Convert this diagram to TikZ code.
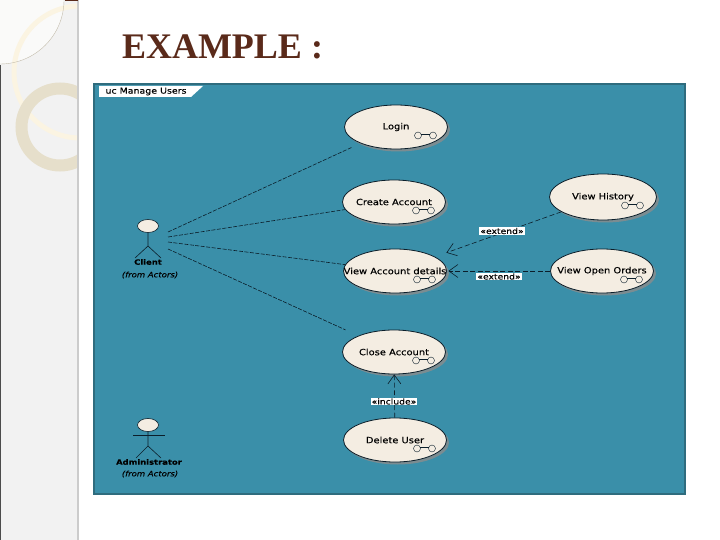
\documentclass[tikz,border=0pt]{standalone}
\usepackage{fontspec}
\setmainfont{Liberation Serif}
\setsansfont{DejaVu Sans}[FakeStretch=1.15, FakeBold=0.3]
\usetikzlibrary{arrows.meta, calc, shapes.geometric, shadows}
\definecolor{panelblue}{HTML}{3A8FA9}
\definecolor{paneledge}{HTML}{2F6C7E}
\definecolor{usecream}{HTML}{F4EDE2}
\definecolor{titlebrown}{HTML}{5A2A1A}
\definecolor{inkdark}{HTML}{0B1E2A}
\definecolor{ringtan}{HTML}{E6DFCB}
\definecolor{ringcream}{HTML}{FBF4E2}
\tikzset{
    usecase/.style={ellipse, draw=inkdark, fill=usecream, thick, inner ysep=0pt, inner xsep=-16pt, minimum width=#1, minimum height=44pt,
        drop shadow={shadow xshift=2.5pt, shadow yshift=-2.5pt, fill=black!45, opacity=0.8}, font=\sffamily\fontsize{8.6}{10}\selectfont, text=black},
    usecase/.default=103pt,
    actorhead/.style={ellipse, draw=inkdark, fill=usecream, semithick, minimum width=21pt, minimum height=13pt, inner sep=0pt},
    actorname/.style={font=\sffamily\bfseries\fontsize{7.3}{9}\selectfont, text=black, inner sep=0pt},
    fromlabel/.style={font=\sffamily\itshape\fontsize{7.4}{8}\selectfont, text=black, inner sep=0pt},
    stereo/.style={fill=white, text=black, inner xsep=1pt, inner ysep=0.5pt, font=\sffamily\fontsize{8}{8}\selectfont},
    assoc/.style={draw=inkdark, semithick, dash pattern=on 4pt off 1.5pt},
    depend/.style={draw=inkdark, semithick, dash pattern=on 5pt off 2.5pt, -{Straight Barb[length=9pt,width=13pt]}},
    stick/.style={draw=inkdark, semithick},
    glasses/.style={draw=inkdark, thin},
}
\begin{document}
\begin{tikzpicture}[x=1pt, y=-1pt]
\useasboundingbox (0,0) rectangle (720,540);
% side strip
\fill[white] (0,0) rectangle (720,540);
\fill[black!5] (0,0) rectangle (78,540);
\begin{scope}
\clip (0,0) rectangle (77,540);
\fill[ringcream!60!black!5] (0,0) -- (64,0) arc[start angle=0, end angle=90, radius=64] -- cycle;
\draw[ringcream, line width=5pt] (80,72) circle[radius=66];
\draw[ringtan!85!black, thin] (64,0) arc[start angle=0, end angle=90, radius=64];
\draw[ringtan, line width=12pt] (60,127) circle[radius=38.5];
\end{scope}
\fill[black!20] (77,0) rectangle (79,540);
\fill[black!70] (0,65) rectangle (1,540);
\fill[titlebrown] (65,0) rectangle (78,1);
% title
\node[text=titlebrown, font=\bfseries\fontsize{36}{44}\selectfont, inner sep=0pt] (title) at (222.5,47) {EXAMPLE :};
% panel
\draw[fill=panelblue, draw=paneledge, line width=2pt] (94,84) rectangle (685,494);
\fill[white] (99,86) -- (203,86) -- (191,97) -- (99,97) -- cycle;
\node[font=\sffamily\fontsize{8.2}{8}\selectfont, text=black, inner sep=0pt] (frame) at (146,91.5) {uc Manage Users};
% use cases
\node[usecase] (login) at (396,127) {Login};
\node[usecase] (create) at (394,202) {Create Account};
\node[usecase=107pt, minimum height=46pt] (history) at (603,197) {View History};
\node[usecase] (details) at (395,271) {View Account details};
\node[usecase] (orders) at (602,271) {View Open Orders};
\node[usecase] (close) at (394,352) {Close Account};
\node[usecase] (delete) at (395,440) {Delete User};
\foreach \n in {login, create, history, details, orders, close, delete} {
    \draw[glasses] ($(\n)+(22,8.5)$) circle[radius=3.5];
    \draw[glasses] ($(\n)+(37,8.5)$) circle[radius=3.5];
    \draw[glasses] ($(\n)+(25,7)$) -- ($(\n)+(34,7)$);
}
% actors
\node[actorhead] (client) at (148,226) {};
\draw[stick] (client.south) -- (148,246) -- (135,258);
\draw[stick] (148,246) -- (161,258);
\node[actorname] (clientname) at (148,262) {Client};
\node[fromlabel] (clientfrom) at (150,275) {(from Actors)};
\node[actorhead] (admin) at (148,425) {};
\draw[stick] (admin.south) -- (148,446) -- (136,458);
\draw[stick] (148,446) -- (161,458);
\draw[stick] (133,435) -- (165,435);
\node[actorname] (adminname) at (149,462) {Administrator};
\node[fromlabel] (adminfrom) at (150,474) {(from Actors)};
% connectors
\coordinate (clienta) at (168,232);
\coordinate (clientb) at (168,237);
\coordinate (clientc) at (168,242);
\coordinate (clientd) at (168,249);
\draw[assoc, shorten >=10pt] (clienta) -- (login);
\draw[assoc] (clientb) -- (create);
\draw[assoc] (clientc) -- (details);
\draw[assoc, shorten >=14pt] (clientd) -- (close);
\draw[depend, shorten >=12pt] (history) -- (details);
\draw[depend, shorten >=1.5pt] (orders) -- (details);
\draw[depend] (delete) -- (close);
\node[stereo] (extenda) at (502,231) {«extend»};
\node[stereo] (extendb) at (499,276.5) {«extend»};
\node[stereo] (includea) at (394,401.5) {«include»};
\end{tikzpicture}
\end{document}
